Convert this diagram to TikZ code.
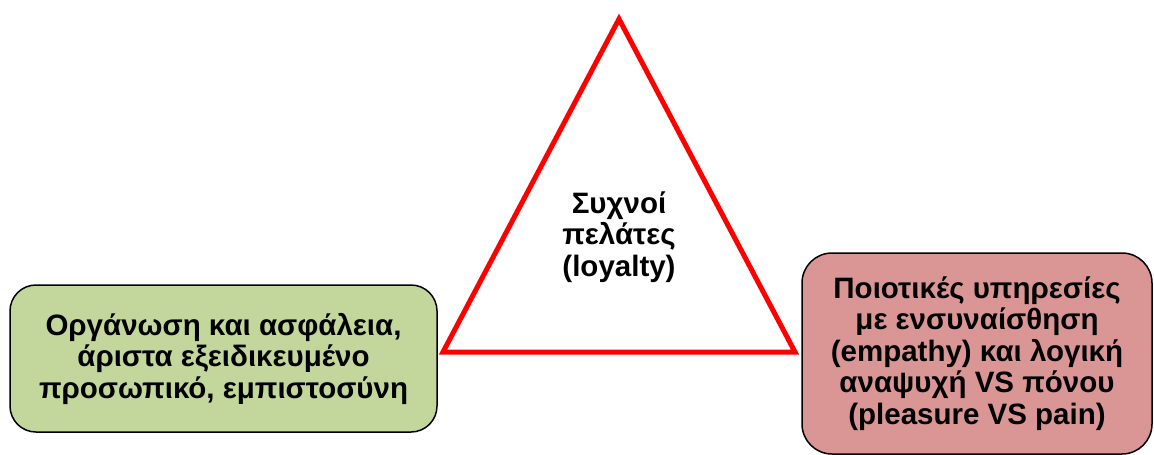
\documentclass[tikz,border=0pt]{standalone}
\usepackage{fontspec}
\setmainfont{Liberation Sans}
\begin{document}
\begin{tikzpicture}[x=1pt,y=-1pt,
  label text/.style={font=\bfseries\fontsize{29.5}{31.5}\selectfont, align=center, text=black, inner sep=0pt},
  box/.style={draw=black, line width=1.5pt, rounded corners=26pt, label text}]
  \useasboundingbox (0,0) rectangle (1154,455);
  % central triangle
  \coordinate (apex) at (619,19);
  \coordinate (bl) at (443,352);
  \coordinate (br) at (795,352);
  \draw[red, line width=5pt, line join=miter] (apex) -- (br) -- (bl) -- cycle;
  \node[label text] (core) at (619,237) {Συχνοί\\πελάτες\\(loyalty)};
  % left box
  \node[box, fill={rgb,255:red,195;green,214;blue,155},
        minimum width=427pt, minimum height=147pt] (left) at (223.5,358.5)
        {Οργάνωση και ασφάλεια,\\άριστα εξειδικευμένο\\προσωπικό, εμπιστοσύνη};
  % right box
  \node[box, fill={rgb,255:red,217;green,150;blue,148}, rounded corners=30pt,
        minimum width=350pt, minimum height=201pt] (right) at (977,353.5)
        {Ποιοτικές υπηρεσίες\\με ενσυναίσθηση\\(empathy) και λογική\\αναψυχή VS πόνου\\(pleasure VS pain)};
\end{tikzpicture}
\end{document}
